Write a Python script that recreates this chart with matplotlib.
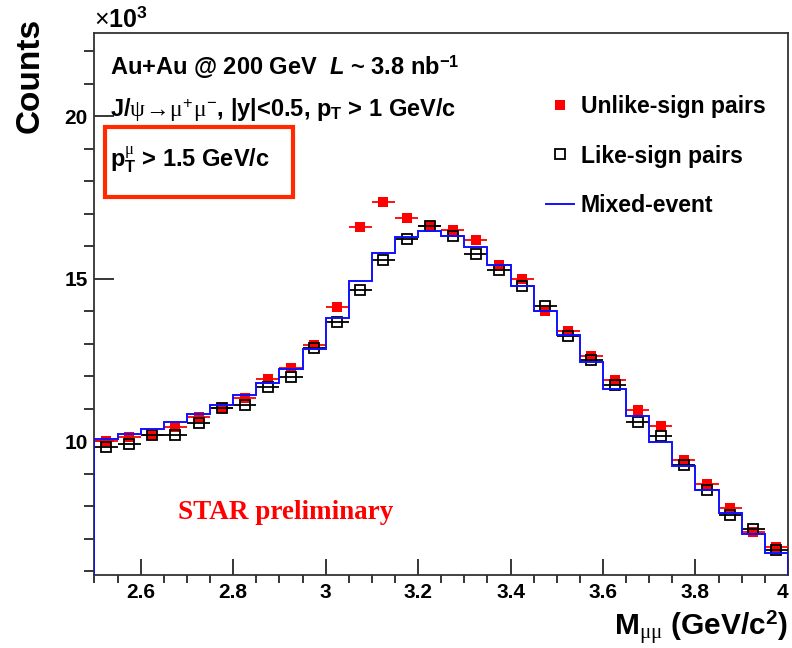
import numpy as np
import matplotlib
matplotlib.use("Agg")
import matplotlib.pyplot as plt
from matplotlib.lines import Line2D
from matplotlib.patches import Rectangle
from matplotlib.ticker import MultipleLocator

plt.rcParams["font.family"] = ["Liberation Sans", "DejaVu Sans"]
plt.rcParams["mathtext.fontset"] = "custom"
plt.rcParams["mathtext.rm"] = "Liberation Sans"
plt.rcParams["mathtext.it"] = "Liberation Serif"
plt.rcParams["mathtext.bf"] = "Liberation Sans:bold"
plt.rcParams["mathtext.bfit"] = "Liberation Sans:bold:italic"

# dimuon invariant mass bins, 0.05 GeV/c^2 wide
bin_edges = np.round(np.arange(2.5, 4.0001, 0.05), 3)
bin_centers = 0.5 * (bin_edges[:-1] + bin_edges[1:])

# counts per bin in units of 10^3
unlike_sign = [10.02, 10.12, 10.19, 10.44, 10.74, 11.01, 11.32, 11.91, 12.24, 12.95,
               14.13, 16.59, 17.35, 16.87, 16.64, 16.51, 16.19, 15.43, 14.99, 14.01,
               13.40, 12.61, 11.89, 10.96, 10.46, 9.41, 8.67, 7.95, 7.19, 6.75]
like_sign = [9.82, 9.92, 10.19, 10.18, 10.56, 11.02, 11.10, 11.66, 11.99, 12.86,
             13.68, 14.67, 15.58, 16.22, 16.64, 16.33, 15.75, 15.26, 14.78, 14.17,
             13.25, 12.51, 11.74, 10.59, 10.15, 9.28, 8.49, 7.74, 7.31, 6.64]
mixed_event = [10.06, 10.22, 10.39, 10.59, 10.84, 11.12, 11.43, 11.80, 12.23, 12.85,
               13.80, 14.94, 15.79, 16.29, 16.46, 16.33, 15.98, 15.44, 14.78, 14.02,
               13.26, 12.45, 11.62, 10.79, 9.99, 9.25, 8.50, 7.78, 7.15, 6.55]

fig = plt.figure(figsize=(7.92, 6.48), dpi=100)
ax = fig.add_axes([0.1193, 0.1127, 0.8756, 0.8364])

half_width = 0.025
ax.errorbar(bin_centers, unlike_sign, xerr=half_width, fmt="s", color="red",
            ms=7, mew=0, elinewidth=1.3, capsize=0, zorder=3)
ax.errorbar(bin_centers, like_sign, xerr=half_width, fmt="s", color="black",
            mfc="none", mec="black", ms=7, mew=1.3, elinewidth=1.3, capsize=0, zorder=4)
ax.stairs(mixed_event, bin_edges, baseline=0, color="#1010ff", lw=1.4, zorder=5)

ax.set_xlim(2.5, 4.0)
ax.set_ylim(5.88, 22.57)

ax.xaxis.set_major_locator(MultipleLocator(0.2))
ax.xaxis.set_minor_locator(MultipleLocator(0.05))
ax.yaxis.set_major_locator(MultipleLocator(5))
ax.yaxis.set_minor_locator(MultipleLocator(1))
ax.xaxis.set_major_formatter(plt.FuncFormatter(lambda v, p: f"{v:g}"))

ax.tick_params(top=False, right=False, direction="in", labelsize=15, width=1.1)
ax.xaxis.set_tick_params(which="major", length=11.5, pad=6)
ax.xaxis.set_tick_params(which="minor", length=5.8, width=1.1)
ax.yaxis.set_tick_params(which="major", length=14.5, pad=5)
ax.yaxis.set_tick_params(which="minor", length=7.2, width=1.1)
fig.canvas.draw()
for lbl in ax.get_xticklabels() + ax.get_yticklabels():
    lbl.set_fontweight("bold")
# the "4" at the right end sits flush with the frame
for tick in ax.xaxis.get_major_ticks():
    if abs(tick.get_loc() - 4.0) < 1e-6:
        tick.label1.set_horizontalalignment("right")
for sp in ax.spines.values():
    sp.set_linewidth(1.3)
    sp.set_color("#333333")

ax.set_xlabel(r"M$_{\mu\mu}$ (GeV/c$^{\mathbf{2}}$)", fontsize=21.5, fontweight="bold",
              loc="right", labelpad=5)
ax.set_ylabel("Counts", fontsize=24, fontweight="bold", loc="top")
ax.yaxis.set_label_coords(-0.071, 1.028)

ax.text(0.0, 1.002, r"$\times$10$^{\mathbf{3}}$", transform=ax.transAxes,
        fontsize=18, fontweight="bold", ha="left", va="bottom")

ax.text(0.022, 0.937, r"Au+Au @ 200 GeV  $\mathbfit{L}$ ~ 3.8 nb$^{\mathbf{-1}}$",
        transform=ax.transAxes, fontsize=17, fontweight="bold", va="center")
ax.text(0.022, 0.858,
        r"J/$\psi\!\rightarrow\!\mu^{+}\mu^{-}$, |y|<0.5, p$_{\mathbf{T}}$ > 1 GeV/c",
        transform=ax.transAxes, fontsize=17, fontweight="bold", va="center")
ax.text(0.022, 0.766, r"p$_{\mathbf{T}}^{\mu}$ > 1.5 GeV/c",
        transform=ax.transAxes, fontsize=17, fontweight="bold", va="center")
ax.add_patch(Rectangle((0.0151, 0.697), 0.271, 0.129, transform=ax.transAxes,
                       fill=False, edgecolor="#ff2a00", lw=3, zorder=6))

ax.text(0.12, 0.115, "STAR preliminary", transform=ax.transAxes,
        family="Liberation Serif", fontsize=19.5, fontweight="bold", color="red",
        va="center")

handles = [
    Line2D([], [], ls="none", marker="s", color="red", ms=7, mew=0),
    Line2D([], [], ls="none", marker="s", mfc="none", mec="black", ms=7, mew=1.3),
    Line2D([], [], color="#1010ff", lw=1.4),
]
labels = ["Unlike-sign pairs", "Like-sign pairs", "Mixed-event"]
leg = ax.legend(handles, labels, loc="upper left", bbox_to_anchor=(0.638, 0.9025),
                frameon=False, handlelength=1.2, handletextpad=0.3,
                labelspacing=1.15, borderaxespad=0, fontsize=16.6)
for t in leg.get_texts():
    t.set_fontweight("bold")

fig.savefig("out.png", dpi=100)
